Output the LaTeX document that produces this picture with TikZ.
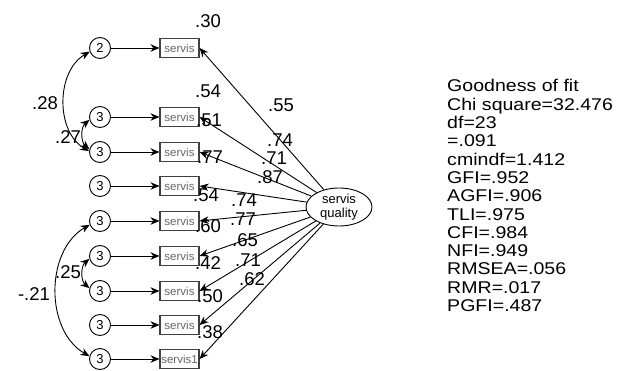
\documentclass[tikz,border=0pt]{standalone}
\usepackage{fontspec}
\setmainfont{Liberation Sans}
\usetikzlibrary{arrows.meta,shapes.geometric}
\begin{document}
\begin{tikzpicture}[x=1pt,y=-1pt,
  err/.style={circle,draw,line width=0.9pt,minimum size=21pt,inner sep=0pt,font=\fontsize{13}{13}\selectfont},
  obs/.style={draw=black!75,line width=1.1pt,minimum width=39pt,minimum height=19pt,inner sep=0pt,font=\fontsize{11.5}{11.5}\selectfont,text=black!60},
  lat/.style={ellipse,draw,line width=0.9pt,minimum width=66pt,minimum height=38pt,inner sep=0pt,align=center,font=\fontsize{13}{13.5}\selectfont},
  arr/.style={-{Stealth[length=9pt,width=7.5pt]},line width=0.9pt},
  cov/.style={{Stealth[length=9pt,width=7.5pt]}-{Stealth[length=9pt,width=7.5pt]},line width=0.9pt},
  lbl/.style={font=\fontsize{18.5}{18.5}\selectfont,inner sep=0pt},
  fitt/.style={font=\fontsize{17}{17}\selectfont,inner sep=0pt,anchor=base west,xscale=1.15,transform shape}
]
\useasboundingbox (0,0) rectangle (618,371);
\fill[white] (0,0) rectangle (618,371);

\node[lat] (sq) at (339,207) {servis\\quality};

\foreach \y [count=\i] in {48,117,152,186,221,256,291,325,359} {
  \node[err] (e\i) at (100,\y) {\ifnum\i=1 2\else 3\fi};
  \node[obs] (o\i) at (179.5,\y) {\ifnum\i=9 servis1\else servis\fi};
  \draw[arr] (e\i) -- (o\i);
  \draw[arr] (sq) -- (o\i.east);
}

% covariances
\draw[cov] (e1.200) to[out=210,in=150] (e3.175);
\draw[cov] (e2.195) to[out=220,in=140] (e3.165);
\draw[cov] (e5.200) to[out=210,in=150] (e9.165);
\draw[cov] (e6.195) to[out=220,in=140] (e7.165);

\node[lbl] (c28) at (45,103) {.28};
\node[lbl] (c27) at (68,137) {.27};
\node[lbl] (c25) at (68,272) {.25};
\node[lbl] (c21) at (34,294) {-.21};

% squared multiple correlations
\node[lbl] (r1) at (208,21) {.30};
\node[lbl] (r2) at (208,91) {.54};
\node[lbl] (r3) at (209,120) {.51};
\node[lbl] (r4) at (210,157) {.77};
\node[lbl] (r5) at (206,195) {.54};
\node[lbl] (r6) at (208,226) {.60};
\node[lbl] (r7) at (208,263) {.42};
\node[lbl] (r8) at (210,296) {.50};
\node[lbl] (r9) at (210,332) {.38};

% loadings
\node[lbl] (w1) at (281,105) {.55};
\node[lbl] (w2) at (280,140) {.74};
\node[lbl] (w3) at (274,158) {.71};
\node[lbl] (w4) at (270,177) {.87};
\node[lbl] (w5) at (244,200) {.74};
\node[lbl] (w6) at (243,219) {.77};
\node[lbl] (w7) at (245,240) {.65};
\node[lbl] (w8) at (248,260) {.71};
\node[lbl] (w9) at (252,279) {.62};

% fit indices
\foreach \t [count=\i] in {Goodness of fit,Chi square=32.476,df=23,=.091,cmindf=1.412,GFI=.952,AGFI=.906,TLI=.975,CFI=.984,NFI=.949,RMSEA=.056,RMR=.017,PGFI=.487}
  \node[fitt] (f\i) at (447,{92+(\i-1)*18.3}) {\t};
\end{tikzpicture}
\end{document}
